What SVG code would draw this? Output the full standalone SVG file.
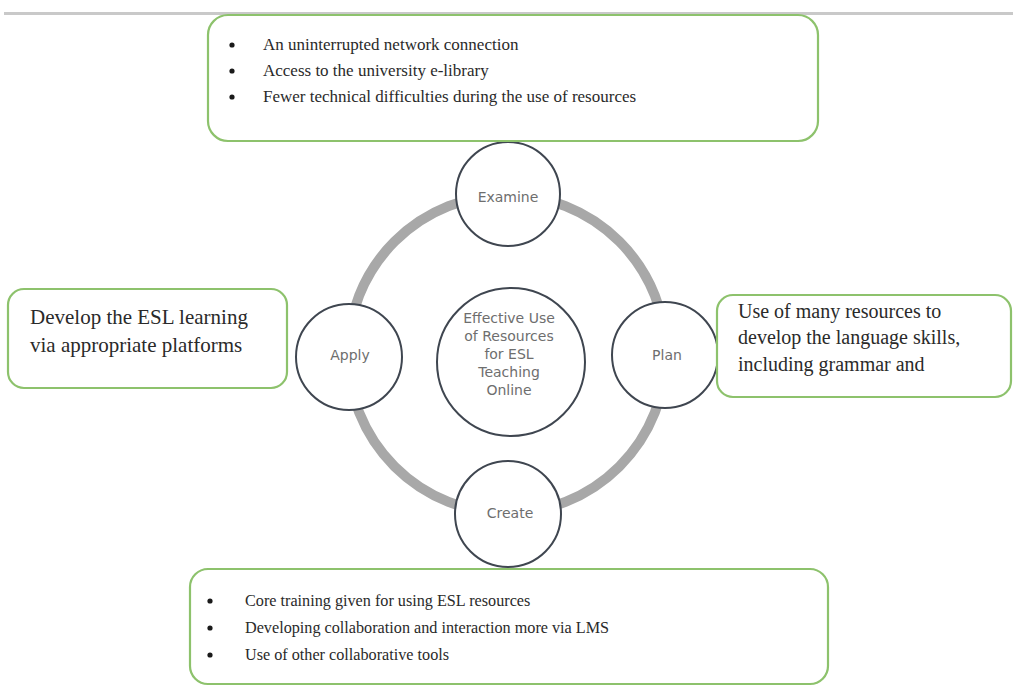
<svg xmlns="http://www.w3.org/2000/svg" width="1013" height="686" viewBox="0 0 1013 686">
  <style>
    .box { fill: #ffffff; stroke: #8dc26c; stroke-width: 2.2; }
    .node { fill: #ffffff; stroke: #3f4650; stroke-width: 2; }
    .ring { fill: none; stroke: #a8a8a8; stroke-width: 10; }
    .lbl { font-family: "DejaVu Sans", "Liberation Sans", sans-serif; font-size: 14px; fill: #6e6e6e; text-anchor: middle; }
    .txt { font-family: "Liberation Serif", "Times New Roman", serif; fill: #2a2a2a; }
    .t17 { font-size: 17px; }
    .t16 { font-size: 16.2px; }
    .t20 { font-size: 20px; }
    .t21 { font-size: 21px; }
    .bul { fill: #1a1a1a; }
  </style>
  <rect width="1013" height="686" fill="#ffffff"/>
  <line x1="4" y1="13.5" x2="1013" y2="13.5" stroke="#c9c9c9" stroke-width="3"/>

  <g id="connectors">
    <circle class="ring" cx="507" cy="354" r="159"/>
  </g>

  <g id="node-examine">
    <circle class="node" cx="508" cy="194" r="52"/>
    <text class="lbl" x="508" y="202">Examine</text>
  </g>
  <g id="node-apply">
    <circle class="node" cx="349" cy="357" r="53"/>
    <text class="lbl" x="350" y="360">Apply</text>
  </g>
  <g id="node-plan">
    <circle class="node" cx="665" cy="355" r="53"/>
    <text class="lbl" x="667" y="360">Plan</text>
  </g>
  <g id="node-create">
    <circle class="node" cx="508" cy="514" r="53"/>
    <text class="lbl" x="510" y="518">Create</text>
  </g>
  <g id="node-center">
    <circle class="node" cx="511" cy="362" r="74"/>
    <text class="lbl" x="509" y="323">Effective Use</text>
    <text class="lbl" x="509" y="341">of Resources</text>
    <text class="lbl" x="509" y="359">for ESL</text>
    <text class="lbl" x="509" y="377">Teaching</text>
    <text class="lbl" x="509" y="395">Online</text>
  </g>

  <g id="box-top">
    <rect class="box" x="208" y="15" width="610" height="126" rx="20"/>
    <circle class="bul" cx="232" cy="45" r="2.6"/>
    <circle class="bul" cx="232" cy="71" r="2.6"/>
    <circle class="bul" cx="232" cy="97" r="2.6"/>
    <text class="txt t17" x="263" y="50">An uninterrupted network connection</text>
    <text class="txt t17" x="263" y="76">Access to the university e-library</text>
    <text class="txt t17" x="263" y="102">Fewer technical difficulties during the use of resources</text>
  </g>

  <g id="box-left">
    <rect class="box" x="8" y="289" width="279" height="99" rx="16"/>
    <text class="txt t21" x="30" y="324">Develop the ESL learning</text>
    <text class="txt t21" x="30" y="352">via appropriate platforms</text>
  </g>

  <g id="box-right">
    <rect class="box" x="717" y="295" width="294" height="102" rx="16"/>
    <text class="txt t20" x="738" y="318">Use of many resources to</text>
    <text class="txt t20" x="738" y="344">develop the language skills,</text>
    <text class="txt t20" x="738" y="371">including grammar and</text>
  </g>

  <g id="box-bottom">
    <rect class="box" x="190" y="569" width="638" height="115" rx="18"/>
    <circle class="bul" cx="210" cy="601" r="2.6"/>
    <circle class="bul" cx="210" cy="628" r="2.6"/>
    <circle class="bul" cx="210" cy="655" r="2.6"/>
    <text class="txt t16" x="245" y="606">Core training given for using ESL resources</text>
    <text class="txt t16" x="245" y="633">Developing collaboration and interaction more via LMS</text>
    <text class="txt t16" x="245" y="660">Use of other collaborative tools</text>
  </g>
</svg>
